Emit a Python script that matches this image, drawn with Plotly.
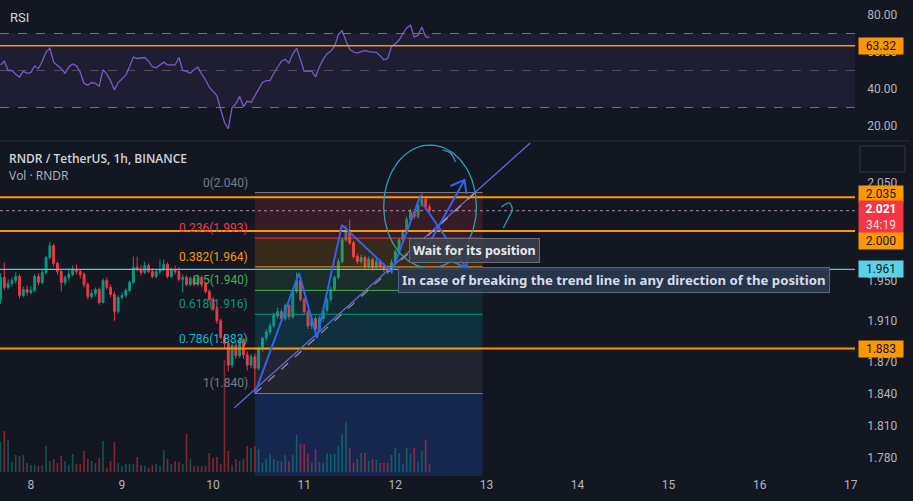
import math
import plotly.graph_objects as go

# ---------------- data ----------------
opens = [1.931,1.953,1.943,1.947,1.950,1.954,1.935,1.941,1.938,1.940,
         1.954,1.948,1.958,1.973,1.985,1.967,1.959,1.948,1.953,1.956,
         1.961,1.959,1.956,1.946,1.934,1.937,1.941,1.928,1.950,1.943,
         1.936,1.919,1.933,1.935,1.940,1.948,1.963,1.961,1.958,1.965,
         1.959,1.954,1.959,1.961,1.966,1.954,1.961,1.959,1.951,1.953,
         1.946,1.952,1.946,1.953,1.946,1.939,1.931,1.922,1.910,1.894,
         1.888,1.867,1.886,1.876,1.892,1.877,1.867,1.875,1.864,1.883,
         1.893,1.899,1.905,1.915,1.919,1.912,1.925,1.914,1.939,1.950,
         1.931,1.919,1.905,1.912,1.902,1.912,1.920,1.931,1.941,1.953,
         1.969,1.991,2.001,1.988,1.974,1.969,1.973,1.964,1.971,1.963,
         1.969,1.964,1.961,1.959,1.968,1.979,1.991,1.999,2.012,2.020,
         2.015,2.027,2.033,2.025]
highs = [1.957,1.968,1.951,1.953,1.958,1.956,1.944,1.945,1.944,1.956,
         1.957,1.961,1.975,1.989,1.987,1.969,1.961,1.955,1.962,1.965,
         1.966,1.961,1.958,1.948,1.941,1.943,1.943,1.952,1.953,1.946,
         1.939,1.935,1.938,1.942,1.950,1.974,1.974,1.965,1.969,1.967,
         1.962,1.961,1.971,1.971,1.968,1.963,1.965,1.963,1.956,1.955,
         1.954,1.955,1.956,1.955,1.948,1.941,1.933,1.924,1.912,1.897,
         1.890,1.888,1.889,1.894,1.893,1.880,1.878,1.878,1.885,1.894,
         1.902,1.908,1.918,1.923,1.922,1.927,1.927,1.941,1.958,1.952,
         1.933,1.921,1.914,1.914,1.915,1.922,1.933,1.944,1.955,1.972,
         1.993,2.006,2.012,1.990,1.977,1.976,1.975,1.974,1.973,1.972,
         1.971,1.967,1.965,1.971,1.981,1.993,2.002,2.015,2.023,2.023,
         2.031,2.040,2.036,2.028]
lows = [1.927,1.940,1.941,1.944,1.947,1.932,1.933,1.935,1.936,1.938,
        1.945,1.946,1.956,1.971,1.964,1.956,1.939,1.945,1.950,1.954,
        1.956,1.952,1.943,1.931,1.932,1.934,1.926,1.927,1.941,1.933,
        1.910,1.917,1.931,1.933,1.938,1.946,1.959,1.955,1.956,1.957,
        1.952,1.952,1.956,1.959,1.952,1.952,1.956,1.949,1.938,1.944,
        1.944,1.944,1.944,1.943,1.937,1.929,1.920,1.907,1.892,1.883,
        1.861,1.864,1.873,1.874,1.873,1.862,1.864,1.840,1.862,1.880,
        1.890,1.896,1.903,1.912,1.909,1.910,1.911,1.912,1.937,1.929,
        1.916,1.902,1.902,1.894,1.899,1.909,1.918,1.929,1.939,1.951,
        1.967,1.989,1.986,1.972,1.966,1.966,1.961,1.962,1.960,1.961,
        1.961,1.958,1.956,1.957,1.966,1.977,1.989,1.997,2.010,2.012,
        2.013,2.025,2.022,2.019]
closes = [1.953,1.943,1.947,1.950,1.954,1.935,1.941,1.938,1.940,1.954,
          1.948,1.958,1.973,1.985,1.967,1.959,1.948,1.953,1.956,1.961,
          1.959,1.956,1.946,1.934,1.937,1.941,1.928,1.950,1.943,1.936,
          1.919,1.933,1.935,1.940,1.948,1.963,1.961,1.958,1.965,1.959,
          1.954,1.959,1.961,1.966,1.954,1.961,1.959,1.951,1.953,1.946,
          1.952,1.946,1.953,1.946,1.939,1.931,1.922,1.910,1.894,1.888,
          1.867,1.886,1.876,1.892,1.877,1.867,1.875,1.864,1.883,1.893,
          1.899,1.905,1.915,1.919,1.912,1.925,1.914,1.939,1.950,1.931,
          1.919,1.905,1.912,1.902,1.912,1.920,1.931,1.941,1.953,1.969,
          1.991,2.001,1.988,1.974,1.969,1.973,1.964,1.971,1.963,1.969,
          1.964,1.961,1.959,1.968,1.979,1.991,1.999,2.012,2.020,2.015,
          2.027,2.033,2.025,2.021]
volume_k = [30,41,32,10,17,16,17,9,7,7,
            6,7,26,11,13,9,16,11,7,18,
            8,8,21,13,11,9,14,31,4,11,
            30,9,6,8,8,8,15,7,6,4,
            7,8,6,22,13,8,11,10,8,38,
            13,6,6,6,6,19,14,15,8,112,
            21,7,13,11,13,26,24,26,23,9,
            13,18,13,11,11,17,11,17,37,28,
            28,18,9,23,10,9,19,18,18,26,
            38,50,24,9,13,19,19,11,13,12,
            9,9,9,17,24,19,8,24,18,24,
            10,21,32,8]
rsi = [53,55,50,50,48,46.5,49.5,48.5,49,52.5,
       51,55,60,62,54.5,53,51,48.5,52,53.5,
       52.5,49,43,42,43.5,43,41.5,50.5,48,44.5,
       39.5,43.5,45.5,47.5,52,57.3,56.5,56.8,57,55,
       52,51.5,53,54.5,53,53,53,57,50,49.5,
       48.5,50.5,51.8,48,45,41,39,36.5,29,22,
       18.5,30,32,36,30.5,33.5,32.7,36.5,40,43.5,
       44.5,44.5,48.5,51.8,55,56,54,59,62,56,
       49.5,49.8,49.5,46.5,52,56,59,60.5,63,69.5,
       71.5,66,61.5,60,59.4,60.2,60.8,60.2,60,59.8,
       58,55.8,56.5,63,64.5,66.5,70,73,74.5,68,
       69,73.5,68.3,67.8]
# hourly candles, first one on day 7 at 16:00 (x in fractional days of month)
times = [7 + (16 + i) / 24 for i in range(len(closes))]

day_ticks = [8, 9, 10, 11, 12, 13, 14, 15, 16, 17]
price_ticks = [2.050, 1.950, 1.910, 1.870, 1.840, 1.810, 1.780]
rsi_ticks = [20, 40, 60, 80]

orange_levels = [2.035, 2.000, 1.883]
cyan_level = 1.961
last_price = 2.021
countdown = "34:19"
rsi_level = 63.32

fib_high, fib_low = 2.040, 1.840
fib_t0, fib_t1 = 10 + 11 / 24, 12 + 23 / 24
fib_ratios = [0, 0.236, 0.382, 0.5, 0.618, 0.786, 1]
fib_ext_ratio = 1.618
fib_line_colors = ["#787b86", "#f23645", "#ff9800", "#4caf50", "#089981", "#00bcd4", "#787b86"]
fib_fill_colors = ["rgba(242,54,69,0.16)", "rgba(255,152,0,0.15)", "rgba(76,175,80,0.15)",
                   "rgba(8,153,129,0.15)", "rgba(0,188,212,0.15)", "rgba(120,123,134,0.15)",
                   "rgba(41,98,255,0.2)"]

# user drawings (day, price)
trend_solid = ([10.232, 13.481], [1.8264, 2.0925])
trend_dashed = ([10.458, 12.934], [1.840, 2.0447])
zigzag = ([10.458, 10.943, 11.140, 11.414, 11.961, 12.278],
          [1.840, 1.9574, 1.8932, 2.0063, 1.9584, 2.0374])
arrow_up = ([12.333, 12.759], [1.9807, 2.0532])
arrow_up_head = ([12.606, 12.759, 12.781], [2.0468, 2.0532, 2.0385])
arrow_dn = ([12.311, 12.781], [2.0270, 1.9625])
arrow_dn_head = ([12.639, 12.781, 12.792], [1.9685, 1.9625, 1.9756])
squiggle_q = ([13.164, 13.252, 13.284, 13.241, 13.186], [2.0249, 2.0292, 2.0218, 2.0135, 2.0032])
squiggle_c = ([12.519, 12.606, 12.661], [2.0850, 2.0818, 2.0723])
ellipse_box = (11.873, 12.891, 1.9625, 2.0904)   # t0, t1, price_low, price_high

# ---------------- style / layout constants ----------------
BG = "#131722"
UP, DN = "#089981", "#f23645"
TXT = "#b2b5be"
W, H = 913, 501
XR = 858 / W
X_RANGE = [7.661, 17.048]
P_RANGE = [1.76368, 2.0936]
lg = math.log10


def py(pix):
    return 1 - pix / H


fig = go.Figure()


def line_trace(xs, ys, color, width, dash="solid", shape="linear", fill=None, fillcolor=None):
    fig.add_trace(go.Scatter(x=xs, y=ys, xaxis="x", yaxis="y", mode="lines",
                             line=dict(color=color, width=width, dash=dash, shape=shape),
                             fill=fill, fillcolor=fillcolor, hoverinfo="skip"))


# fibonacci retracement fills + levels (under the candles)
fib_prices = [fib_high - r * (fib_high - fib_low) for r in fib_ratios]
band_edges = fib_prices + [fib_high - fib_ext_ratio * (fib_high - fib_low)]
for k in range(len(band_edges) - 1):
    top, bot = band_edges[k], band_edges[k + 1]
    line_trace([fib_t0, fib_t1, fib_t1, fib_t0, fib_t0], [top, top, bot, bot, top],
               "rgba(0,0,0,0)", 0, fill="toself", fillcolor=fib_fill_colors[k])
for p, col in zip(fib_prices, fib_line_colors):
    line_trace([fib_t0, fib_t1], [p, p], col, 1)

fig.add_trace(go.Candlestick(x=times, open=opens, high=highs, low=lows, close=closes,
                             xaxis="x", yaxis="y", whiskerwidth=0,
                             increasing=dict(line=dict(color=UP, width=1), fillcolor=UP),
                             decreasing=dict(line=dict(color=DN, width=1), fillcolor=DN)))

# horizontal levels
line_trace(X_RANGE, [last_price, last_price], "rgba(205,175,195,0.8)", 1, dash="dot")
for lvl in orange_levels:
    line_trace(X_RANGE, [lvl, lvl], "#ff9800", 2)
line_trace(X_RANGE, [cyan_level, cyan_level], "#4cc9de", 1.3)

# drawings
line_trace(*trend_solid, "#6368d8", 1.3)
line_trace(*trend_dashed, "rgba(200,175,205,0.75)", 1.2, dash="dash")
for seg in (zigzag, arrow_up, arrow_up_head, arrow_dn, arrow_dn_head):
    line_trace(*seg, "#2f64f0", 2)
line_trace(*squiggle_q, "#2a9fb0", 1.3, shape="spline")
line_trace(*squiggle_c, "#2a9fb0", 1.3, shape="spline")
# ellipse outline (pixel-round on the log axis)
et0, et1, ep0, ep1 = ellipse_box
cx, rx = (et0 + et1) / 2, (et1 - et0) / 2
cy, ry = (lg(ep0) + lg(ep1)) / 2, (lg(ep1) - lg(ep0)) / 2
angles = [2 * math.pi * k / 120 for k in range(121)]
line_trace([cx + rx * math.cos(a) for a in angles], [10 ** (cy + ry * math.sin(a)) for a in angles],
           "#2a9fb0", 1.3)

# volume (overlay axis)
vol_colors = ["rgba(8,153,129,0.5)" if c >= o else "rgba(242,54,69,0.5)" for o, c in zip(opens, closes)]
fig.add_trace(go.Bar(x=times, y=volume_k, marker=dict(color=vol_colors, line=dict(width=0)),
                     width=0.42 / 24, xaxis="x", yaxis="y3", hoverinfo="skip"))

# RSI
fig.add_trace(go.Scatter(x=times, y=rsi, xaxis="x2", yaxis="y2", mode="lines",
                         line=dict(color="#7e57c2", width=1.3), hoverinfo="skip"))

shapes = []
shapes.append(dict(type="rect", xref="paper", yref="y2", x0=0, x1=XR, y0=30, y1=70,
                   fillcolor="rgba(126,87,194,0.1)", line=dict(width=0), layer="below"))
for lvl, col in [(70, "rgba(120,123,134,0.9)"), (50, "rgba(120,123,134,0.55)"), (30, "rgba(120,123,134,0.9)")]:
    shapes.append(dict(type="line", xref="paper", yref="y2", x0=0, x1=XR, y0=lvl, y1=lvl,
                       line=dict(color=col, width=1, dash="dash"), layer="below"))
shapes.append(dict(type="line", xref="paper", yref="y2", x0=0, x1=XR, y0=rsi_level, y1=rsi_level,
                   line=dict(color="#ff9800", width=1.5)))
shapes.append(dict(type="line", xref="paper", yref="paper", x0=0, x1=1, y0=py(141), y1=py(141),
                   line=dict(color="#2a2e39", width=1)))
shapes.append(dict(type="rect", xref="paper", yref="paper", x0=863 / W, x1=908 / W, y0=py(172), y1=py(146),
                   line=dict(color="#2a2e39", width=1.5)))

ann = []
FONT = "Roboto"
ann.append(dict(xref="paper", yref="paper", x=8 / W, y=py(17), xanchor="left", yanchor="middle",
                text="RSI", showarrow=False, font=dict(color="#d1d4dc", size=13, family=FONT)))
ann.append(dict(xref="paper", yref="paper", x=7 / W, y=py(158), xanchor="left", yanchor="middle",
                text="RNDR / TetherUS, 1h, BINANCE", showarrow=False,
                font=dict(color="#d1d4dc", size=12, family="Open Sans", weight=600)))
ann.append(dict(xref="paper", yref="paper", x=7 / W, y=py(176), xanchor="left", yanchor="middle",
                text="Vol · RNDR", showarrow=False, font=dict(color="#b2b5be", size=12, family="Open Sans")))

for r, p, col in zip(fib_ratios, fib_prices, fib_line_colors):
    ann.append(dict(xref="x", yref="y", x=10.40, y=lg(p), xanchor="right", yanchor="bottom", yshift=1,
                    text=f"{r:g}({p:.3f})", showarrow=False, font=dict(color=col, size=12, family=FONT)))


def badge(yref, yval, text, bg, fg, yshift=0):
    ann.append(dict(xref="paper", x=861 / W, xanchor="left", yref=yref, y=yval, yanchor="middle",
                    yshift=yshift, text=text, showarrow=False, bgcolor=bg, width=42, align="center",
                    borderpad=1, font=dict(color=fg, size=12, family=FONT)))


badge("y", lg(orange_levels[0]), f"{orange_levels[0]:.3f}", "#ff9800", "#131722", yshift=3)
badge("y", lg(last_price), f"<b>{last_price:.3f}</b><br><span style='color:#ffd6da'>{countdown}</span>",
      "#f23645", "#ffffff", yshift=-6)
badge("y", lg(orange_levels[1]), f"{orange_levels[1]:.3f}", "#ff9800", "#131722", yshift=-10)
badge("y", lg(cyan_level), f"{cyan_level:.3f}", "#5ad1e5", "#131722")
badge("y", lg(orange_levels[2]), f"{orange_levels[2]:.3f}", "#ff9800", "#131722")
badge("y2", rsi_level, f"{rsi_level:.2f}", "#ff9800", "#131722")

ann.append(dict(xref="x", yref="y", x=12.147, y=lg(1.9802), xanchor="left", yanchor="middle",
                text="<b>Wait for its position</b>", showarrow=False,
                bgcolor="rgba(60,64,76,0.88)", bordercolor="#6a6d78", borderwidth=1, borderpad=3,
                font=dict(color="#e6e9ef", size=12.5, family="Noto Sans")))
ann.append(dict(xref="x", yref="y", x=12.026, y=lg(1.9504), xanchor="left", yanchor="middle",
                text="<b>In case of breaking the trend line in any direction of the position</b>",
                showarrow=False, bgcolor="rgba(42,55,78,0.92)", bordercolor="#56657e", borderwidth=1,
                borderpad=3, font=dict(color="#d5dde8", size=13.2, family="Noto Sans")))

axis_common = dict(showgrid=False, zeroline=False, showline=False, ticks="", fixedrange=True)
fig.update_layout(
    width=W, height=H, margin=dict(l=0, r=0, t=0, b=0),
    paper_bgcolor=BG, plot_bgcolor=BG, showlegend=False, hovermode=False,
    xaxis=dict(domain=[0, XR], range=X_RANGE, anchor="y", tickvals=day_ticks,
               ticktext=[str(d) for d in day_ticks], tickfont=dict(color=TXT, size=12, family=FONT),
               rangeslider=dict(visible=False), **axis_common),
    xaxis2=dict(domain=[0, XR], range=X_RANGE, anchor="y2", matches="x", showticklabels=False, **axis_common),
    yaxis=dict(domain=[py(476), py(142)], anchor="x", side="right", type="log",
               range=[lg(P_RANGE[0]), lg(P_RANGE[1])],
               tickvals=price_ticks, ticktext=[f"{v:.3f}" for v in price_ticks],
               tickfont=dict(color=TXT, size=12, family=FONT), ticklabelstandoff=11, **axis_common),
    yaxis3=dict(overlaying="y", anchor="x", range=[-4, 330], visible=False, fixedrange=True),
    yaxis2=dict(domain=[py(140), 1], range=[12.43, 88.11], anchor="x2", side="right",
                tickvals=rsi_ticks, ticktext=[f"{v:.2f}" for v in rsi_ticks],
                tickfont=dict(color=TXT, size=12, family=FONT), ticklabelstandoff=11, **axis_common),
    shapes=shapes, annotations=ann,
)

fig.write_html("out.html")
